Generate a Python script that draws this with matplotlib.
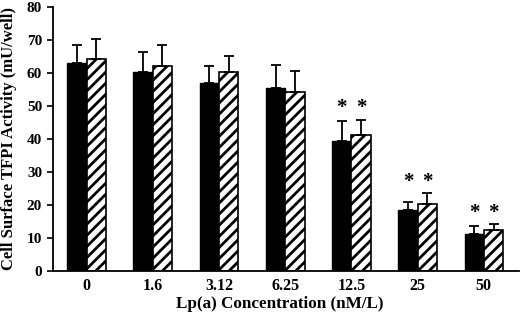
import numpy as np
import matplotlib
matplotlib.use("Agg")
import matplotlib.pyplot as plt

# values
conc = ["0", "1.6", "3.12", "6.25", "12.5", "25", "50"]
solid = [62.9, 60.3, 57.0, 55.4, 39.4, 18.5, 11.2]
solid_top = [68.3, 66.2, 62.1, 62.4, 45.5, 20.9, 13.4]
hatched = [64.1, 62.0, 60.1, 54.2, 41.2, 20.3, 12.3]
hatched_top = [70.3, 68.3, 65.0, 60.6, 45.8, 23.4, 14.1]
signif = [False, False, False, False, True, True, True]

plt.rcParams['font.family'] = ['Liberation Serif', 'DejaVu Serif']
plt.rcParams['font.weight'] = 'bold'
plt.rcParams['hatch.linewidth'] = 2.0

fig = plt.figure(figsize=(5.2, 3.21), dpi=100)
ax = fig.add_axes([0.101, 0.157, 0.897, 0.822])

x = np.arange(len(conc))
w = 0.292
solid_err = np.array(solid_top) - np.array(solid)
hatched_err = np.array(hatched_top) - np.array(hatched)

ax.bar(x - w/2, solid, w, color='black', edgecolor='black', linewidth=1.0,
       yerr=[np.zeros(len(x)), solid_err], capsize=3.6,
       error_kw=dict(elinewidth=1.3, capthick=1.3, ecolor='black'))
ax.bar(x + w/2, hatched, w, color='white', edgecolor='black', linewidth=1.2,
       hatch='///', yerr=[np.zeros(len(x)), hatched_err], capsize=3.6,
       error_kw=dict(elinewidth=1.3, capthick=1.3, ecolor='black'))

# significance stars
for i in range(len(x)):
    if signif[i]:
        ys = max(solid_top[i], hatched_top[i]) + 3.5
        for dx in (-w/2, w/2):
            ax.text(x[i] + dx, ys, '*', ha='center', va='center', fontsize=15)

ax.set_xlim(-0.514, 6.53)
ax.set_ylim(0, 80)
ax.set_yticks(range(0, 81, 10))
ax.set_xticks(x)
ax.set_xticklabels(conc)
ax.tick_params(axis='x', length=0, pad=5.5, labelsize=11.5)
ax.tick_params(axis='y', direction='out', length=4, width=1.2, pad=3.5, labelsize=11)
for s in ['top', 'right']:
    ax.spines[s].set_visible(False)
for s in ['left', 'bottom']:
    ax.spines[s].set_linewidth(1.3)

ax.set_xlabel('Lp(a) Concentration (nM/L)', fontsize=12.3, fontweight='bold', labelpad=1.5)
ax.xaxis.label.set_x(0.487)
ax.set_ylabel('Cell Surface TFPI Activity (mU/well)', fontsize=12, fontweight='bold', labelpad=7)

fig.savefig('out.png', dpi=100)
